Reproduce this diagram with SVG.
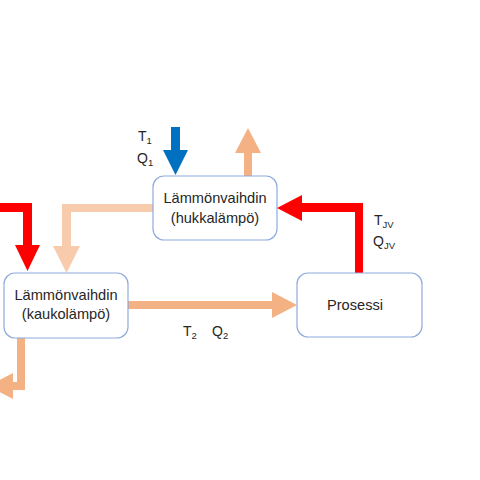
<svg xmlns="http://www.w3.org/2000/svg" width="480" height="480" viewBox="0 0 480 480">
<style>
.box{fill:#fff;stroke:#8FAADC;stroke-width:1.2}
.t{font-family:"Liberation Sans",Arial,sans-serif;font-size:14.6px;fill:#262626;text-anchor:middle}
.l{font-family:"Liberation Sans",Arial,sans-serif;font-size:14px;fill:#262626}
.s{font-size:9.5px}
.red{fill:#FF0000}
.blue{fill:#0070C0}
.org{fill:#F4B183}
.peach{fill:#F8CBAD}
</style>
<rect width="480" height="480" fill="#fff"/>
<g id="connectors">
<polygon class="blue" points="171,127 180,127 180,150 188,150 175.5,175 163,150 171,150"/>
<polygon class="org" points="244,176 244,153 235,153 248,128 261,153 252,153 252,176"/>
<polygon class="peach" points="153,204 62,204 62,246 53,246 66.5,273 80,246 71,246 71,212 153,212"/>
<polygon class="red" points="0,203 32,203 32,245 40,245 27.5,271 15,245 23,245 23,212 0,212"/>
<polygon class="red" points="363,273 363,203 302,203 302,195 277,208 302,221 302,212 355,212 355,273"/>
<polygon class="org" points="128,301 272,301 272,292 297,305 272,318 272,309 128,309"/>
<polygon class="org" points="17,338 25,338 25,390 13,390 13,399 -12,386 13,373 13,382 17,382"/>
</g>
<g id="hukka">
<rect class="box" x="153" y="176" width="124" height="64" rx="11"/>
<text class="t" x="215" y="203">Lämmönvaihdin</text>
<text class="t" x="215" y="222.5">(hukkalämpö)</text>
</g>
<g id="kauko">
<rect class="box" x="4" y="273" width="124" height="65" rx="11"/>
<text class="t" x="66" y="300">Lämmönvaihdin</text>
<text class="t" x="66" y="319">(kaukolämpö)</text>
</g>
<g id="prosessi">
<rect class="box" x="297" y="273" width="125" height="64" rx="11"/>
<text class="t" x="355" y="310">Prosessi</text>
</g>
<g id="labels">
<text class="l" x="138" y="141">T<tspan class="s" dy="3">1</tspan></text>
<text class="l" x="137" y="163">Q<tspan class="s" dy="3">1</tspan></text>
<text class="l" x="183" y="336">T<tspan class="s" dy="3">2</tspan></text>
<text class="l" x="212" y="336">Q<tspan class="s" dy="3">2</tspan></text>
<text class="l" x="374" y="225">T<tspan class="s" dy="3">JV</tspan></text>
<text class="l" x="373" y="246">Q<tspan class="s" dy="3">JV</tspan></text>
</g>
</svg>
